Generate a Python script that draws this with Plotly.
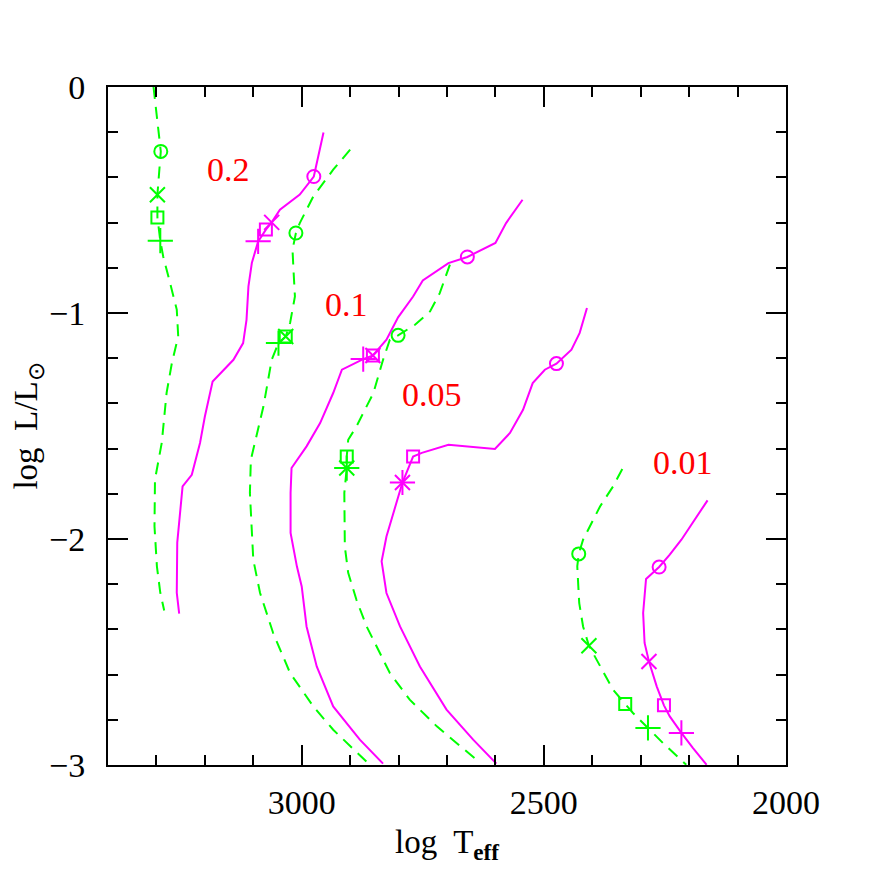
import plotly.graph_objects as go

# ---------------- data (Teff, log L/Lsun) ----------------
# mass 0.2
g02_T = [3306, 3291, 3298, 3298, 3292, 3286, 3272, 3258, 3255, 3268, 3279, 3289, 3303, 3304, 3299, 3292, 3284]
g02_L = [0.0, -0.285, -0.477, -0.577, -0.68, -0.75, -0.866, -0.985, -1.104, -1.22, -1.353, -1.574, -1.737, -1.944, -2.121, -2.238, -2.316]
m02_T = [2955, 2975, 3004, 3045, 3062, 3074, 3090, 3103, 3110, 3114, 3121, 3141, 3184, 3200, 3210, 3227, 3246, 3253, 3257, 3258, 3253]
m02_L = [-0.201, -0.396, -0.476, -0.543, -0.599, -0.631, -0.683, -0.779, -0.882, -1.03, -1.133, -1.207, -1.303, -1.458, -1.575, -1.716, -1.767, -1.944, -2.016, -2.238, -2.33]
# mass 0.1
g01_T = [2900, 2935, 2976, 3004, 3012, 3019, 3017, 3014, 3024, 3033, 3048, 3062, 3079, 3096, 3105, 3107, 3100, 3086, 3059, 3024, 2976, 2935, 2873, 2859]
g01_L = [-0.277, -0.366, -0.484, -0.602, -0.646, -0.72, -0.808, -0.927, -1.044, -1.104, -1.133, -1.207, -1.413, -1.575, -1.649, -1.796, -2.092, -2.239, -2.416, -2.593, -2.741, -2.844, -2.969, -3.0]
m01_T = [2544, 2578, 2600, 2658, 2697, 2750, 2770, 2801, 2825, 2853, 2873, 2917, 2935, 2962, 2990, 3021, 3023, 3023, 3010, 3000, 2990, 2969, 2935, 2880, 2832]
m01_L = [-0.499, -0.602, -0.69, -0.752, -0.779, -0.856, -0.927, -1.019, -1.118, -1.188, -1.204, -1.251, -1.354, -1.487, -1.59, -1.686, -1.796, -1.973, -2.121, -2.21, -2.387, -2.564, -2.741, -2.888, -2.994]
# mass 0.05
g005_T = [2694, 2715, 2735, 2766, 2801, 2818, 2832, 2852, 2887, 2904, 2907, 2907, 2912, 2911, 2904, 2887, 2866, 2838, 2818, 2777, 2721, 2639]
g005_L = [-0.786, -0.912, -0.993, -1.052, -1.099, -1.118, -1.207, -1.354, -1.502, -1.561, -1.635, -1.686, -1.796, -2.033, -2.15, -2.269, -2.387, -2.504, -2.593, -2.711, -2.829, -2.977]
m005_T = [2411, 2426, 2443, 2474, 2498, 2523, 2543, 2570, 2601, 2697, 2752, 2770, 2792, 2807, 2825, 2835, 2825, 2797, 2756, 2701, 2646, 2598]
m005_L = [-0.978, -1.088, -1.162, -1.224, -1.251, -1.31, -1.428, -1.531, -1.602, -1.583, -1.619, -1.635, -1.75, -1.856, -1.989, -2.099, -2.239, -2.387, -2.564, -2.755, -2.888, -2.994]
# mass 0.01
g001_T = [2338, 2357, 2384, 2419, 2428, 2431, 2427, 2419, 2407, 2384, 2357, 2332, 2316, 2285, 2254, 2206]
g001_L = [-1.69, -1.767, -1.856, -2.003, -2.066, -2.121, -2.283, -2.387, -2.472, -2.564, -2.667, -2.73, -2.77, -2.836, -2.903, -2.999]
m001_T = [2162, 2188, 2216, 2240, 2262, 2289, 2295, 2292, 2283, 2267, 2252, 2240, 2216, 2192, 2164]
m001_L = [-1.829, -1.915, -2.003, -2.069, -2.124, -2.177, -2.327, -2.46, -2.542, -2.652, -2.736, -2.785, -2.858, -2.925, -2.999]

# age markers (circle, x, square, plus) for green and magenta tracks
g_circ_T = [3291, 3012, 2801, 2428]
g_circ_L = [-0.285, -0.646, -1.099, -2.066]
g_x_T = [3298, 3033, 2907, 2407]
g_x_L = [-0.477, -1.104, -1.686, -2.472]
g_sq_T = [3298, 3033, 2907, 2332]
g_sq_L = [-0.577, -1.104, -1.635, -2.73]
g_pl_T = [3292, 3048, 2907, 2285]
g_pl_L = [-0.68, -1.133, -1.686, -2.836]

m_circ_T = [2975, 2658, 2474, 2262]
m_circ_L = [-0.396, -0.752, -1.224, -2.124]
m_x_T = [3062, 2853, 2792, 2283]
m_x_L = [-0.599, -1.188, -1.75, -2.542]
m_sq_T = [3074, 2853, 2770, 2252]
m_sq_L = [-0.631, -1.188, -1.635, -2.736]
m_pl_T = [3090, 2873, 2792, 2216]
m_pl_L = [-0.683, -1.204, -1.75, -2.858]

labels = ["0.2", "0.1", "0.05", "0.01"]
label_T = [3152, 2907, 2731, 2213]
label_L = [-0.366, -0.963, -1.361, -1.663]

GREEN = "#00ff00"
MAG = "#ff00ff"
FONT = "Liberation Serif, Times New Roman, serif"

fig = go.Figure()

for T, L in [(g02_T, g02_L), (g01_T, g01_L), (g005_T, g005_L), (g001_T, g001_L)]:
    fig.add_trace(go.Scatter(x=T, y=L, mode="lines",
                             line=dict(color=GREEN, width=2, dash="12px,8px"),
                             showlegend=False, hoverinfo="skip"))
for T, L in [(m02_T, m02_L), (m01_T, m01_L), (m005_T, m005_L), (m001_T, m001_L)]:
    fig.add_trace(go.Scatter(x=T, y=L, mode="lines",
                             line=dict(color=MAG, width=2),
                             showlegend=False, hoverinfo="skip"))

def add_markers(T, L, color, symbol, size):
    fig.add_trace(go.Scatter(x=T, y=L, mode="markers",
                             marker=dict(symbol=symbol, size=size, color=color,
                                         line=dict(color=color, width=2)),
                             showlegend=False, hoverinfo="skip"))

add_markers(g_circ_T, g_circ_L, GREEN, "circle-open", 13)
add_markers(g_x_T, g_x_L, GREEN, "x-thin-open", 15)
add_markers(g_sq_T, g_sq_L, GREEN, "square-open", 12)
add_markers(g_pl_T, g_pl_L, GREEN, "cross-thin-open", 18)
add_markers(m_circ_T, m_circ_L, MAG, "circle-open", 13)
add_markers(m_x_T, m_x_L, MAG, "x-thin-open", 15)
add_markers(m_sq_T, m_sq_L, MAG, "square-open", 12)
add_markers(m_pl_T, m_pl_L, MAG, "cross-thin-open", 18)

for t, T, L in zip(labels, label_T, label_L):
    fig.add_annotation(x=T, y=L, text=t, showarrow=False,
                       font=dict(color="#ff0000", size=34, family=FONT))

axis_common = dict(showgrid=False, zeroline=False, showline=True, linecolor="black",
                   linewidth=2, mirror="allticks", ticks="inside", tickcolor="black",
                   tickwidth=2, ticklen=20, automargin=False,
                   tickfont=dict(family=FONT, size=34, color="black"))

fig.update_xaxes(range=[3400, 2000], tickvals=[3000, 2500, 2000],
                 minor=dict(ticks="inside", ticklen=10, tickwidth=2, tickcolor="black", dtick=100),
                 ticklabelstandoff=6,
                 title=dict(text="log  T<sub><b>eff</b></sub>\u00a0\u00a0\u00a0\u00a0",
                            font=dict(family=FONT, size=33, color="black"), standoff=10),
                 **axis_common)
fig.update_yaxes(range=[-3, 0], tickvals=[0, -1, -2, -3],
                 minor=dict(ticks="inside", ticklen=10, tickwidth=2, tickcolor="black", dtick=0.2),
                 ticklabelstandoff=14,
                 title=dict(text="log  L/L<sub>⊙</sub>", font=dict(family=FONT, size=33, color="black"), standoff=18),
                 **axis_common)

fig.update_layout(width=872, height=872, plot_bgcolor="white", paper_bgcolor="white",
                  margin=dict(l=100, r=94, t=79, b=115), showlegend=False)

fig.write_html("out.html")
